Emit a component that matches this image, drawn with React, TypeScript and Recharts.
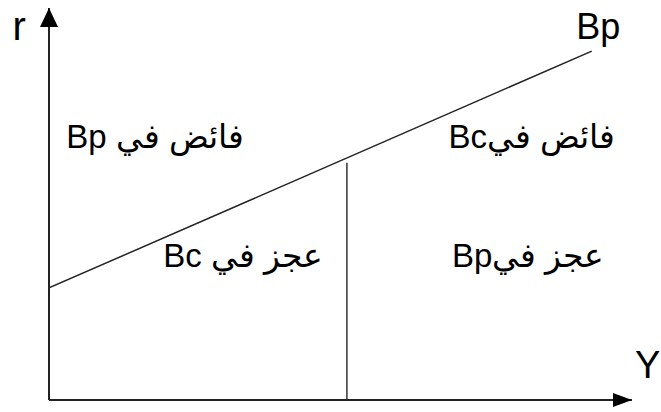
import React from 'react';
import { ComposedChart, XAxis, YAxis, Line, ReferenceDot } from 'recharts';

// Bp curve: income Y vs interest rate r
const bpY = [0, 93.1];
const bpR = [28.6, 89];

// vertical divider (Bc)
const bcY = [51.1, 51.1];
const bcR = [0, 60.5];

const regionLabels = ['فائض في Bp', 'فائض فيBc', 'عجز في Bc', 'عجز فيBp'];
const regionY = [18.2, 82.8, 33.3, 82.2];
const regionR = [64.3, 64.3, 33.9, 33.9];

const axisLabels = ['r', 'Bp', 'Y'];
const axisLabelY = [-5.1, 94.2, 102.7];
const axisLabelR = [91.8, 92.1, 5.6];
const axisLabelSize = [40, 36, 38];

const bpData = bpY.map((x, i) => ({ x, r: bpR[i] }));
const bcData = bcY.map((x, i) => ({ x, r: bcR[i] }));

const FONT = '"Liberation Sans", Arial, sans-serif';

const textShape = (text: string, size: number) => (props: any) => (
  <text
    x={props.cx}
    y={props.cy}
    textAnchor="middle"
    direction="rtl"
    fontSize={size}
    fontFamily={FONT}
    fill="#000"
  >
    {text}
  </text>
);

const arrowRight = (props: any) => (
  <polygon
    points={`${props.cx},${props.cy} ${props.cx - 19},${props.cy - 7} ${props.cx - 19},${props.cy + 7}`}
    fill="#000"
  />
);

const arrowUp = (props: any) => (
  <polygon
    points={`${props.cx},${props.cy} ${props.cx - 9},${props.cy + 19} ${props.cx + 9},${props.cy + 19}`}
    fill="#000"
  />
);

export default function App() {
  return (
    <div style={{ position: 'fixed', left: 0, top: 0, background: '#fff' }}>
      <ComposedChart width={661} height={412} margin={{ top: 8, right: 29, bottom: 11, left: 48 }}>
        <XAxis
          type="number"
          dataKey="x"
          domain={[0, 100]}
          allowDataOverflow
          tick={false}
          tickLine={false}
          height={1}
          axisLine={{ stroke: '#222', strokeWidth: 2 }}
        />
        <YAxis
          type="number"
          domain={[0, 100]}
          allowDataOverflow
          tick={false}
          tickLine={false}
          width={1}
          axisLine={{ stroke: '#222', strokeWidth: 2 }}
        />
        <Line
          data={bpData}
          dataKey="r"
          stroke="#222"
          strokeWidth={1.5}
          dot={false}
          isAnimationActive={false}
        />
        <Line
          data={bcData}
          dataKey="r"
          stroke="#333"
          strokeWidth={1.5}
          dot={false}
          isAnimationActive={false}
        />
        <ReferenceDot x={100} y={0} r={0} ifOverflow="visible" shape={arrowRight} />
        <ReferenceDot x={0} y={100} r={0} ifOverflow="visible" shape={arrowUp} />
        {regionLabels.map((t, i) => (
          <ReferenceDot
            key={`reg-${i}`}
            x={regionY[i]}
            y={regionR[i]}
            r={0}
            ifOverflow="visible"
            shape={textShape(t, 33)}
          />
        ))}
        {axisLabels.map((t, i) => (
          <ReferenceDot
            key={`ax-${i}`}
            x={axisLabelY[i]}
            y={axisLabelR[i]}
            r={0}
            ifOverflow="visible"
            shape={textShape(t, axisLabelSize[i])}
          />
        ))}
      </ComposedChart>
    </div>
  );
}
